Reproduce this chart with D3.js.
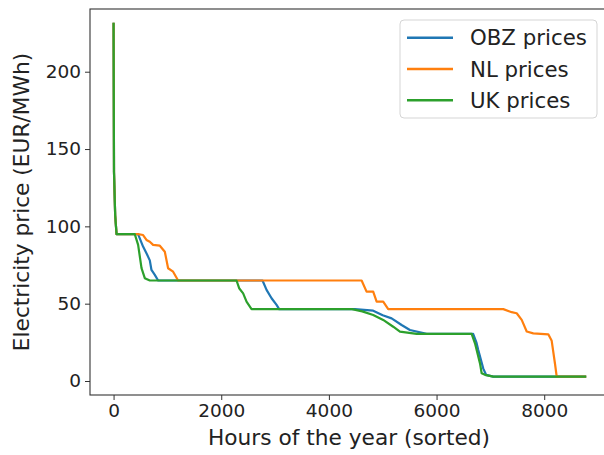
<!DOCTYPE html>
<html>
<head>
<meta charset="utf-8">
<script src="https://cdn.jsdelivr.net/npm/d3@7"></script>
<style>
  body { margin: 0; background: #fff; }
  text { font-family: "DejaVu Sans", sans-serif; fill: #222; }
</style>
</head>
<body>
<script>
// price duration curves (hour index, price)
var obzHours  = [0, 8, 30, 55, 455, 548, 620, 673, 704, 766, 828, 2767, 2842, 2935, 3028, 3076, 4483, 4823, 5000, 5165, 5351, 5505, 5816, 6680, 6740, 6775, 6868, 6920, 7054, 8760];
var obzPrices = [231, 135, 107, 95, 95, 86.9, 82, 78, 71.8, 68.6, 65, 65, 58.9, 53.5, 49.2, 46.5, 46.5, 45.5, 42.5, 40.5, 36.2, 33, 30.5, 30.5, 25, 20, 8, 4, 2.8, 2.8];

var nlHours  = [0, 8, 30, 55, 455, 548, 611, 673, 734, 859, 952, 1013, 1106, 1199, 4608, 4700, 4823, 4887, 5009, 5102, 7240, 7396, 7489, 7582, 7675, 7797, 8076, 8139, 8201, 8232, 8760];
var nlPrices = [231, 135, 107, 95, 95, 94.4, 91.2, 90, 88, 87.5, 83.6, 72.9, 70.7, 65, 65, 57.8, 57.8, 51.3, 51.3, 46.5, 46.5, 44.5, 43.8, 39.5, 32, 30.8, 30.2, 26, 11, 2.8, 2.8];

var ukHours  = [0, 8, 30, 55, 394, 456, 519, 580, 673, 2284, 2333, 2407, 2470, 2563, 4430, 4620, 4823, 5009, 5195, 5320, 5630, 6652, 6714, 6807, 6838, 6900, 7054, 8760];
var ukPrices = [231, 135, 107, 95, 95, 88, 73, 66.5, 65, 65, 60, 56.7, 51.3, 46.5, 46.5, 45, 42.7, 39.5, 35.1, 31.9, 30.5, 30.5, 24.4, 11.4, 5, 4, 2.8, 2.8];

var seriesNames  = ['OBZ prices', 'NL prices', 'UK prices'];
var seriesColors = ['#1f77b4', '#ff7f0e', '#2ca02c'];

var xTicks = [0, 2000, 4000, 6000, 8000];
var yTicks = [0, 50, 100, 150, 200];

(function() {
  var width = 604,
      height = 455,
      plotLeft = 90,
      plotRight = 608.7,
      plotTop = 9,
      plotBottom = 395;

  function zip(hours, prices) {
    return hours.map(function(h, i) { return {h: h, p: prices[i]}; });
  }

  var series = [
    zip(obzHours, obzPrices),
    zip(nlHours, nlPrices),
    zip(ukHours, ukPrices)
  ];

  var x = d3.scaleLinear().domain([-438, 9198]).range([plotLeft, plotRight]);
  var y = d3.scaleLinear().domain([-9.05, 240.55]).range([plotBottom, plotTop]);

  var svg = d3.select('body')
    .append('svg')
      .attr('width', width)
      .attr('height', height);

  var line = d3.line()
    .x(function(d) { return x(d.h); })
    .y(function(d) { return y(d.p); });

  svg.append('g')
    .selectAll('path')
      .data(series)
      .enter()
    .append('path')
      .attr('d', line)
      .attr('fill', 'none')
      .attr('stroke', function(d, i) { return seriesColors[i]; })
      .attr('stroke-width', 2.2)
      .attr('stroke-linejoin', 'round')
      .attr('stroke-linecap', 'square');

  // axes
  var xAxis = svg.append('g')
    .attr('transform', 'translate(0,' + plotBottom + ')')
    .call(d3.axisBottom(x).tickValues(xTicks).tickSize(5).tickPadding(4).tickFormat(d3.format('d')));

  var yAxis = svg.append('g')
    .attr('transform', 'translate(' + plotLeft + ',0)')
    .call(d3.axisLeft(y).tickValues(yTicks).tickSize(5).tickPadding(4));

  [xAxis, yAxis].forEach(function(a) {
    a.select('.domain').remove();
    a.selectAll('line').attr('stroke', '#333');
    a.selectAll('text').style('font-size', '18.5px').attr('fill', '#222');
  });

  // frame
  svg.append('rect')
    .attr('x', plotLeft)
    .attr('y', plotTop)
    .attr('width', plotRight - plotLeft)
    .attr('height', plotBottom - plotTop)
    .attr('fill', 'none')
    .attr('stroke', '#333')
    .attr('stroke-width', 1.1);

  svg.append('text')
    .attr('x', 349)
    .attr('y', 445)
    .attr('text-anchor', 'middle')
    .style('font-size', '21.7px')
    .text('Hours of the year (sorted)');

  svg.append('text')
    .attr('transform', 'translate(29,' + ((plotTop + plotBottom) / 2) + ') rotate(-90)')
    .attr('text-anchor', 'middle')
    .style('font-size', '21.7px')
    .text('Electricity price (EUR/MWh)');

  // legend
  var legend = svg.append('g');

  legend.append('rect')
    .attr('x', 400)
    .attr('y', 20)
    .attr('width', 197)
    .attr('height', 98)
    .attr('rx', 4)
    .attr('fill', '#fff')
    .attr('fill-opacity', 0.8)
    .attr('stroke', '#d5d5d5');

  var entry = legend.selectAll('.entry')
      .data(seriesNames)
      .enter()
    .append('g')
      .attr('class', 'entry')
      .attr('transform', function(d, i) { return 'translate(0,' + (37.7 + i * 31.3) + ')'; });

  entry.append('line')
    .attr('x1', 407)
    .attr('x2', 453)
    .attr('stroke', function(d, i) { return seriesColors[i]; })
    .attr('stroke-width', 2.5);

  entry.append('text')
    .attr('x', 470)
    .attr('dy', '0.36em')
    .style('font-size', '21.3px')
    .text(function(d) { return d; });
})();
</script>
</body>
</html>
